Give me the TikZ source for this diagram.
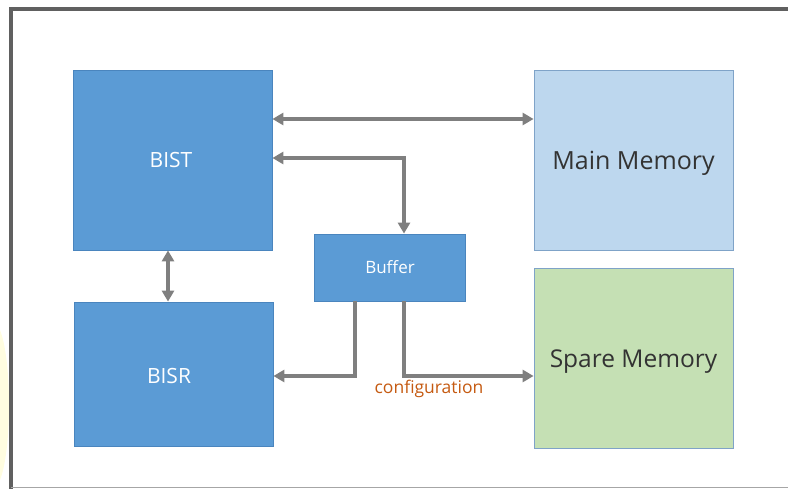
\documentclass[tikz,border=0pt]{standalone}
\usepackage{fontspec}
\setmainfont{Open Sans}
\usetikzlibrary{arrows.meta}
\definecolor{darkblue}{HTML}{5B9BD5}
\definecolor{darkblueedge}{HTML}{4A85BE}
\definecolor{lightblue}{HTML}{BDD7EE}
\definecolor{lightgreen}{HTML}{C5E0B4}
\definecolor{paleedge}{HTML}{7FA3C8}
\definecolor{linkgray}{HTML}{7F7F7F}
\definecolor{framegray}{HTML}{606060}
\definecolor{cfgorange}{HTML}{C55A11}
\tikzset{
  block/.style={draw=darkblueedge, fill=darkblue, line width=0.8pt, inner sep=0pt},
  memblock/.style={draw=paleedge, line width=0.8pt, inner sep=0pt},
  lbl/.style={inner sep=0pt, anchor=base},
  tip/.style={Triangle[length=11pt,width=12pt]},
  link/.style={draw=linkgray, line width=3.5pt, -{Triangle[length=11pt,width=12pt]}},
  dlink/.style={draw=linkgray, line width=3.5pt, {Triangle[length=11pt,width=12pt]}-{Triangle[length=11pt,width=12pt]}},
}
\begin{document}
\begin{tikzpicture}[x=1pt,y=-1pt]
\useasboundingbox (0,0) rectangle (788,489);
% faint highlight at the left margin
\fill[yellow!12] (0,330) .. controls (12,360) and (12,450) .. (0,480) -- cycle;
% page frame
\draw[framegray, line width=4pt] (11,489) -- (11,9) -- (788,9);
\draw[gray!70, line width=1pt] (11,487) -- (788,487);

% blocks
\node[block, minimum width=199pt, minimum height=180pt] (bist) at (172.5,160) {};
\node[block, minimum width=199pt, minimum height=144pt] (bisr) at (173.5,374) {};
\node[block, minimum width=151pt, minimum height=67pt] (buf) at (389.5,267.5) {};
\node[memblock, fill=lightblue, minimum width=199pt, minimum height=180pt] (main) at (633.5,160) {};
\node[memblock, fill=lightgreen, minimum width=199pt, minimum height=180pt] (spare) at (633.5,358) {};

% block labels (placed on their baselines)
\node[lbl, text=white, font=\fontsize{21}{25}\selectfont] (bistT) at (171,168) {BIST};
\node[lbl, text=white, font=\fontsize{21}{25}\selectfont] (bisrT) at (169,384) {BISR};
\node[lbl, text=white, font=\fontsize{17}{20}\selectfont] (bufT) at (390,274) {Buffer};
\node[lbl, text=black!80, font=\fontsize{25}{30}\selectfont] (mainT) at (633.5,170) {Main Memory};
\node[lbl, text=black!80, font=\fontsize{24.5}{29}\selectfont] (spareT) at (633.5,368) {Spare Memory};

% connectors
\draw[dlink] (bist.east |- 0,119) -- (main.west |- 0,119);
\draw[dlink] (bist.east |- 0,158) -- (404,158) -- (buf.north -| 404,0);
\draw[dlink] (bist.south -| 168,0) -- (bisr.north -| 168,0);
\coordinate (cfgL) at (355,376);
\coordinate (cfgR) at (404,376);
\draw[link] (buf.south -| cfgL) -- (cfgL) -- (bisr.east |- cfgL);
\draw[link] (buf.south -| cfgR) -- (cfgR) -- (spare.west |- cfgR);
\node[lbl, text=cfgorange, font=\fontsize{17.5}{21}\selectfont] (cfg) at (429,393) {configuration};
\end{tikzpicture}
\end{document}
